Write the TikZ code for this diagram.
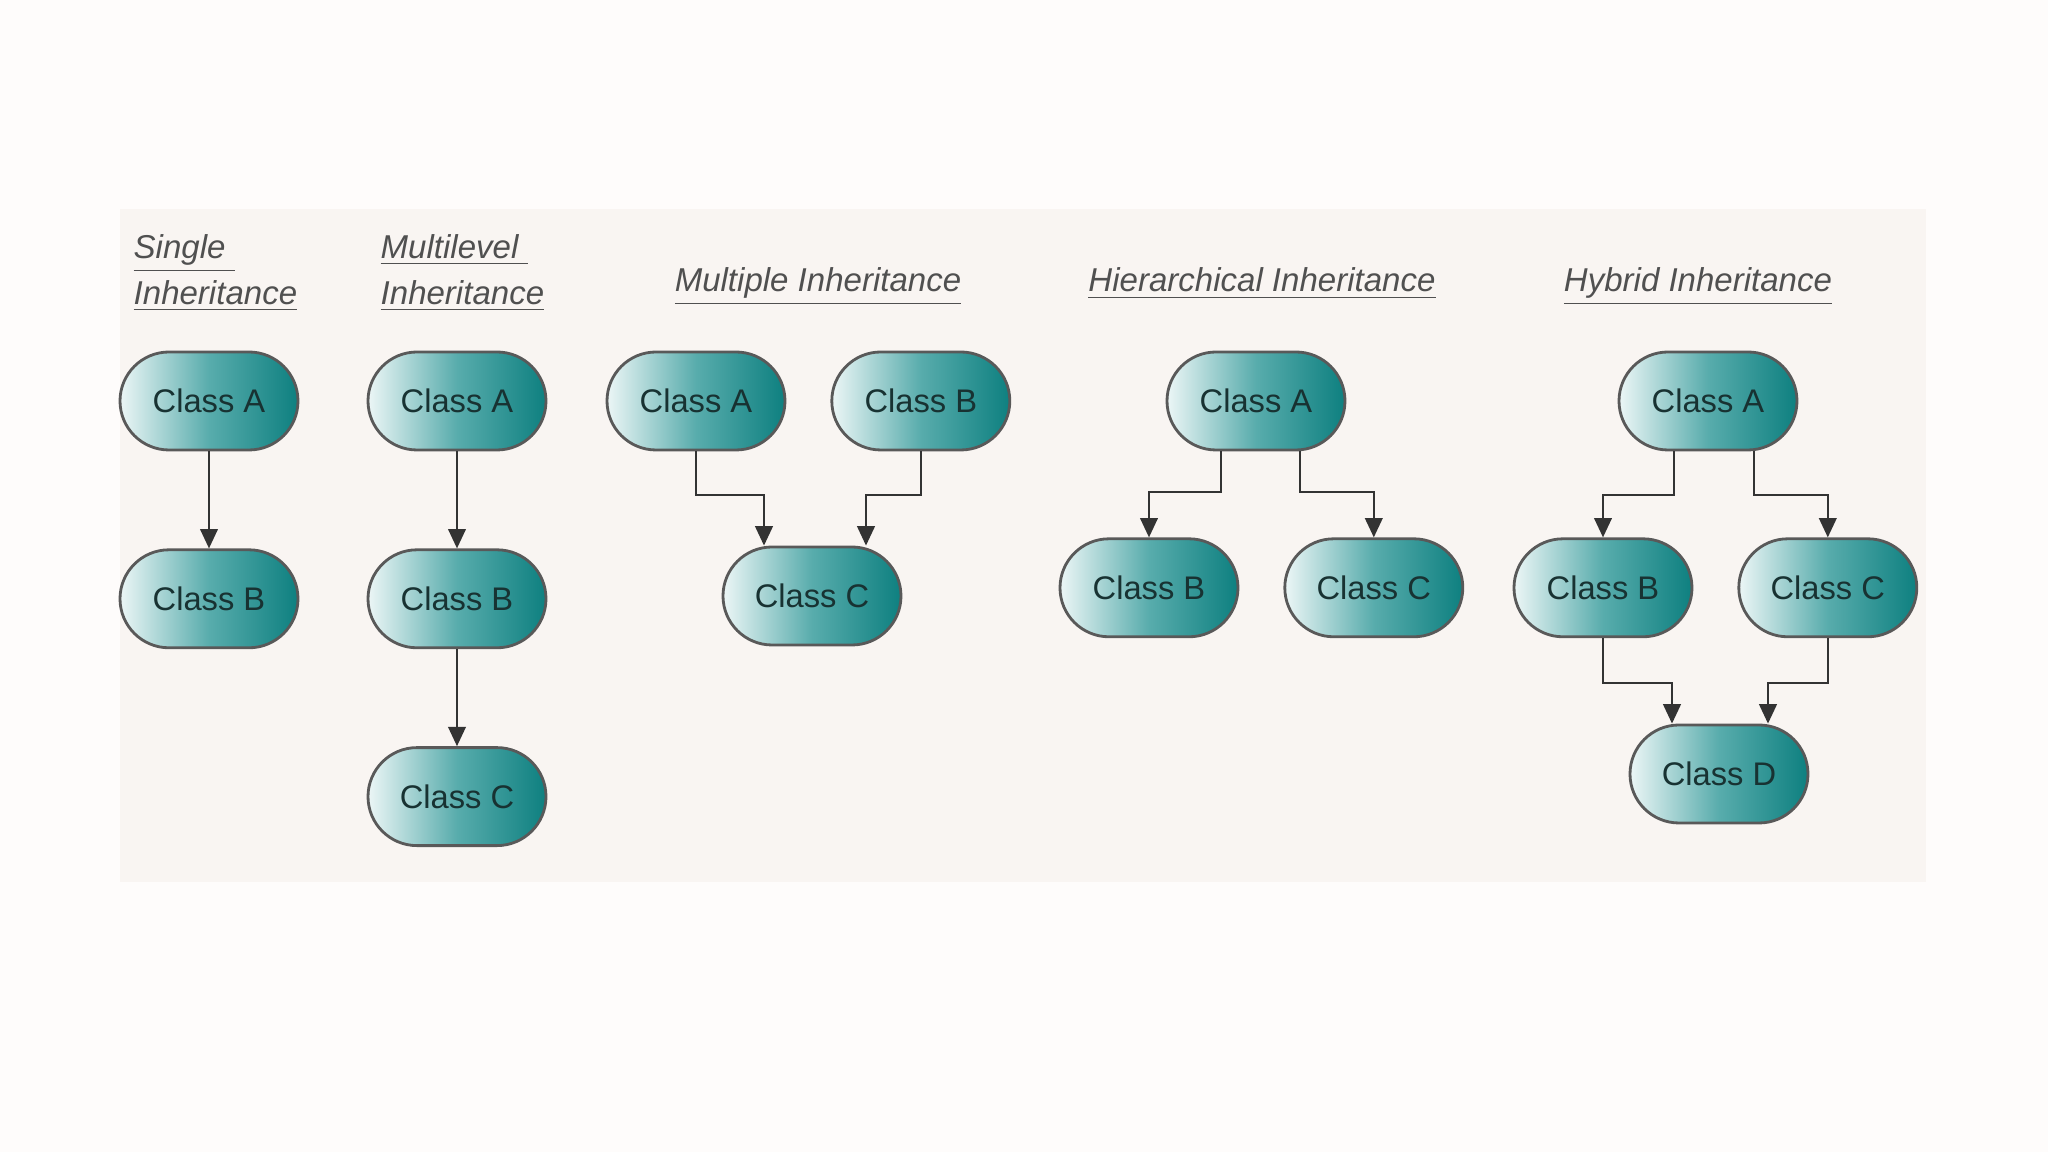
\documentclass[tikz,border=0pt]{standalone}
\usepackage{fontspec}
\setmainfont{Liberation Sans}
\usetikzlibrary{arrows.meta, positioning}

\definecolor{pagebg}{RGB}{254,252,251}
\definecolor{panelbg}{RGB}{249,245,242}
\definecolor{classlight}{RGB}{236,246,246}
\definecolor{classmid}{RGB}{88,172,172}
\definecolor{classteal}{RGB}{14,128,128}
\definecolor{classtext}{RGB}{24,50,50}
\definecolor{titlegray}{RGB}{80,80,80}

\begin{document}
\begin{tikzpicture}[
  node distance=0.97cm,
  cls/.style={rectangle, rounded corners=4.9mm, draw=black!65, line width=0.8pt, minimum width=1.78cm, minimum height=0.98cm, left color=classlight, right color=classteal, middle color=classmid, text=classtext, font=\fontsize{9.3}{11}\selectfont},
  heading/.style={font=\fontsize{9.4}{13}\selectfont\itshape, text=titlegray, align=left, inner sep=0pt},
  arrow/.style={-{Triangle[width=5pt,length=5.5pt]}, draw=black!80, line width=0.6pt}
]

\useasboundingbox (0,0) rectangle (20.48,11.52);
\fill [pagebg] (0,0) rectangle (20.48,11.52);
\fill [panelbg] (1.20,2.70) rectangle (19.26,9.43);

\node (singleT) [heading, anchor=west] at (1.33,8.79) {\underline{Single~}\\\underline{Inheritance}};
\node (multiT) [heading, anchor=west] at (3.80,8.79) {\underline{Multilevel~}\\\underline{Inheritance}};
\node (mulT) [heading, anchor=base] at (8.18,8.60) {\underline{Multiple Inheritance}};
\node (hierT) [heading, anchor=base] at (12.62,8.60) {\underline{Hierarchical Inheritance}};
\node (hybT) [heading, anchor=base] at (16.98,8.60) {\underline{Hybrid Inheritance}};

\node (singleA) [cls] at (2.09,7.51) {Class A};
\node (singleB) [cls, below=of singleA] {Class B};

\node (multiA) [cls] at (4.57,7.51) {Class A};
\node (multiB) [cls, below=of multiA] {Class B};
\node (multiC) [cls, below=of multiB] {Class C};

\node (mulA) [cls] at (6.96,7.51) {Class A};
\node (mulB) [cls, right=0.44cm of mulA] {Class B};
\node (mulC) [cls] at (8.12,5.56) {Class C};

\node (hierA) [cls] at (12.56,7.51) {Class A};
\node (hierB) [cls, below=0.86cm of hierA, xshift=-1.07cm] {Class B};
\node (hierC) [cls, right=0.44cm of hierB] {Class C};

\node (hybA) [cls] at (17.08,7.51) {Class A};
\node (hybB) [cls, below=0.86cm of hybA, xshift=-1.05cm] {Class B};
\node (hybC) [cls, right=0.44cm of hybB] {Class C};
\node (hybD) [cls] at (17.19,3.78) {Class D};

\draw [arrow] (singleA) -- (singleB);
\draw [arrow] (multiA) -- (multiB);
\draw [arrow] (multiB) -- (multiC);

\draw [arrow] (mulA.south) -- ++(0,-0.44) -| ([xshift=-4.8mm]mulC.north);
\draw [arrow] (mulB.south) -- ++(0,-0.44) -| ([xshift=5.4mm]mulC.north);

\draw [arrow] ([xshift=-3.5mm]hierA.south) -- ++(0,-0.41) -| (hierB.north);
\draw [arrow] ([xshift=4.4mm]hierA.south) -- ++(0,-0.41) -| (hierC.north);

\draw [arrow] ([xshift=-3.4mm]hybA.south) -- ++(0,-0.44) -| (hybB.north);
\draw [arrow] ([xshift=4.6mm]hybA.south) -- ++(0,-0.44) -| (hybC.north);
\draw [arrow] (hybB.south) -- ++(0,-0.45) -| ([xshift=-4.7mm]hybD.north);
\draw [arrow] (hybC.south) -- ++(0,-0.45) -| ([xshift=4.9mm]hybD.north);

\end{tikzpicture}
\end{document}
